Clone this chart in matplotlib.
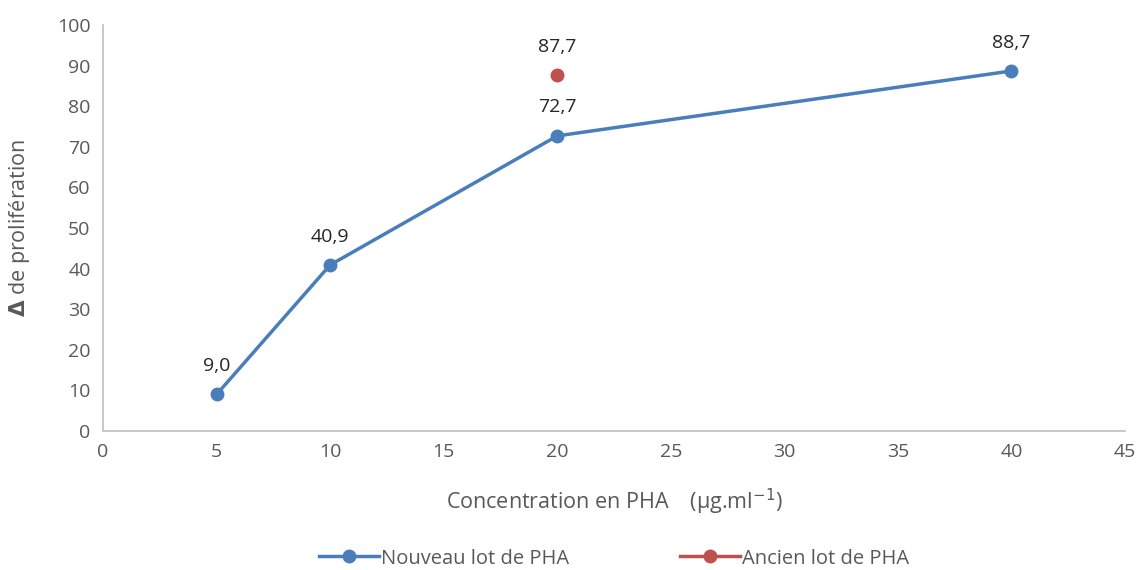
import matplotlib.pyplot as plt

plt.rcParams['font.family'] = ['Open Sans', 'DejaVu Sans']

conc_new = [5, 10, 20, 40]
prolif_new = [9.0, 40.9, 72.7, 88.7]
conc_old = [20]
prolif_old = [87.7]

blue = '#4a7ebb'
red = '#c0504d'
grey = '#595959'

fig = plt.figure(figsize=(11.41, 5.70), dpi=100)
ax = fig.add_axes([0.0903, 0.2439, 0.8957, 0.7121])

ax.plot(conc_new, prolif_new, color=blue, lw=2.5, marker='o', ms=9,
        label='Nouveau lot de PHA')
ax.plot(conc_old, prolif_old, color=red, lw=2.5, marker='o', ms=9,
        label='Ancien lot de PHA')

for x, y in zip(conc_new + conc_old, prolif_new + prolif_old):
    ax.annotate(f'{y:.1f}'.replace('.', ','), (x, y), xytext=(0, 14),
                textcoords='offset points', ha='center', va='bottom',
                fontsize=14, color='#262626')

ax.set_xlim(0, 45)
ax.set_ylim(0, 100)
ax.set_xticks(range(0, 46, 5))
ax.set_yticks(range(0, 101, 10))
ax.tick_params(labelsize=14, colors=grey, length=0, pad=9)
for s in ['top', 'right']:
    ax.spines[s].set_visible(False)
for s in ['left', 'bottom']:
    ax.spines[s].set_color('#bfbfbf')
    ax.spines[s].set_linewidth(1.2)

ax.set_xlabel('Concentration en PHA    (µg.ml$^{-1}$)', fontsize=15.5, color=grey, labelpad=18)
ax.set_ylabel(r'$\mathbf{\Delta}$ de prolifération', fontsize=15.5, color=grey, labelpad=18)

ax.legend(loc='upper center', bbox_to_anchor=(0.5, -0.245), ncol=2, frameon=False,
          fontsize=14.5, labelcolor=grey, columnspacing=5.5, handlelength=3,
          handletextpad=0.1)

fig.savefig('out.png', dpi=100)
